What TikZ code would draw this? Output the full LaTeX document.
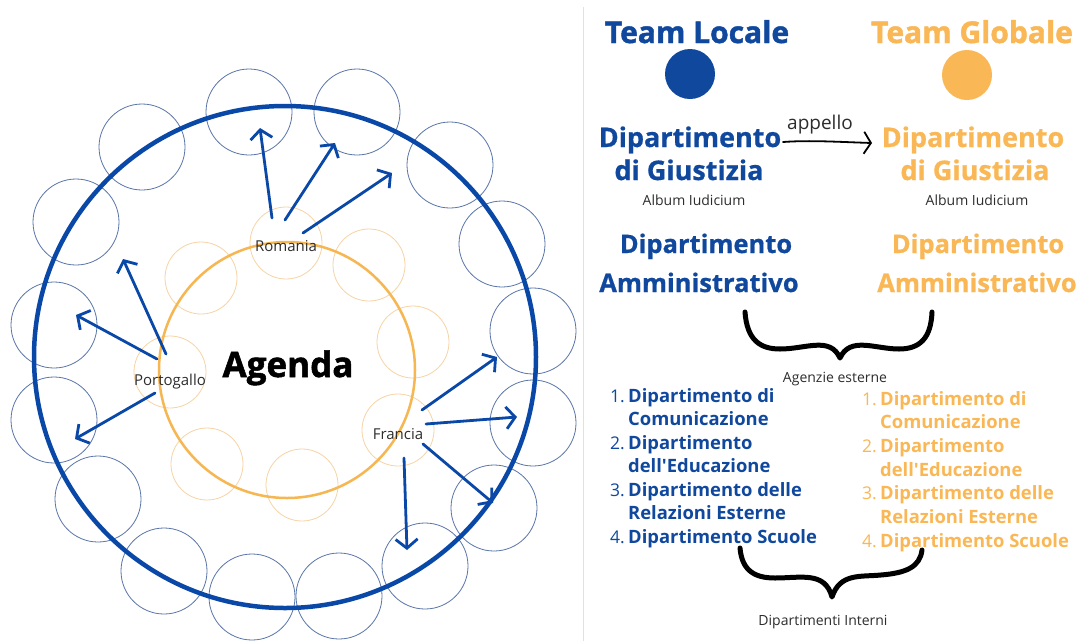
\documentclass[tikz,border=0pt]{standalone}
\usepackage{fontspec}
\setmainfont{Open Sans}
\newfontfamily\heavyfont{Open Sans}[FakeBold=1.5]
\newfontfamily\semifont{Open Sans}[FakeBold=0.7]
\usetikzlibrary{arrows.meta}
\definecolor{cblue}{RGB}{10,72,168}
\definecolor{tblue}{RGB}{16,72,158}
\definecolor{cthin}{RGB}{90,118,170}
\definecolor{corange}{RGB}{250,183,85}
\definecolor{corbig}{RGB}{246,182,82}
\definecolor{corlight}{RGB}{247,212,165}
\definecolor{ctext}{RGB}{45,45,45}
\definecolor{cdiv}{RGB}{225,225,225}
\begin{document}
\begin{tikzpicture}[x=1pt,y=-1pt,
  outc/.style={circle, draw=cthin, line width=0.8pt, minimum size=86pt, inner sep=0pt},
  orc/.style={circle, draw=corlight, line width=0.8pt, minimum size=72pt, inner sep=0pt},
  arw/.style={draw=cblue, line width=2.8pt, line cap=round, -{Straight Barb[length=9pt,width=22pt]}},
  lbl/.style={font=\fontsize{15}{18}\selectfont, text=ctext, inner sep=0pt, anchor=base},
  small/.style={font=\fontsize{14}{17}\selectfont, text=ctext, inner sep=0pt, anchor=base},
  head/.style={font=\heavyfont\bfseries\fontsize{30}{36}\selectfont, inner sep=0pt, anchor=base},
  dep/.style={font=\semifont\bfseries\fontsize{27}{32}\selectfont, inner sep=0pt, anchor=base},
  depa/.style={font=\semifont\bfseries\fontsize{25.5}{30}\selectfont, inner sep=0pt, anchor=base},
  item/.style={font=\bfseries\fontsize{18.4}{22}\selectfont, inner sep=0pt, anchor=base west},
  num/.style={font=\fontsize{17.5}{22}\selectfont, inner sep=0pt, anchor=base east},
  brace/.style={draw=black, line width=5pt, line cap=round, line join=round}
]
\useasboundingbox (0,0) rectangle (1080,641);
\fill[white] (0,0) rectangle (1080,641);

% divider
\coordinate (dv1) at (583,7);
\coordinate (dv2) at (583,641);
\draw[cdiv, line width=1pt] (dv1) -- (dv2);

% outer small circles
\node[outc] (o1) at (249,112) {};
\node[outc] (o2) at (357,112) {};
\node[outc] (o3) at (450,165) {};
\node[outc] (o4) at (502,244) {};
\node[outc] (o5) at (533,331) {};
\node[outc] (o6) at (533,423) {};
\node[outc] (o7) at (494,508) {};
\node[outc] (o8) at (425,566) {};
\node[outc] (o9) at (339,596) {};
\node[outc] (o10) at (252,597) {};
\node[outc] (o11) at (164,571) {};
\node[outc] (o12) at (98,499) {};
\node[outc] (o13) at (54,420) {};
\node[outc] (o14) at (54,325) {};
\node[outc] (o15) at (76,222) {};
\node[outc] (o16) at (142,147) {};

% inner orange circles
\node[orc] (rom) at (286,243) {};
\node[orc] (i2) at (369,265) {};
\node[orc] (i3) at (413,342) {};
\node[orc] (fra) at (398,430) {};
\node[orc] (i5) at (302,485) {};
\node[orc] (i6) at (207,464) {};
\node[orc] (por) at (170,372) {};
\node[orc] (i8) at (201,278) {};

% big circles
\node[circle, draw=cblue, line width=4.5pt, minimum size=502pt, inner sep=0pt] (big) at (285,357) {};
\node[circle, draw=corbig, line width=2.5pt, minimum size=256pt, inner sep=0pt] (mid) at (287,370) {};

% arrow coordinates
\coordinate (ra1) at (272,218); \coordinate (rb1) at (260,128);
\coordinate (ra2) at (285,220); \coordinate (rb2) at (335,143);
\coordinate (ra3) at (303,233); \coordinate (rb3) at (392,173);
\coordinate (pa1) at (166,354); \coordinate (pb1) at (123,259);
\coordinate (pa2) at (157,359); \coordinate (pb2) at (76,315);
\coordinate (pa3) at (155,393); \coordinate (pb3) at (75,439);
\coordinate (fa1) at (422,410); \coordinate (fb1) at (497,357);
\coordinate (fa2) at (426,424); \coordinate (fb2) at (517,417);
\coordinate (fa3) at (423,444); \coordinate (fb3) at (493,503);
\coordinate (fa4) at (404,458); \coordinate (fb4) at (407,550);

\draw[arw] (ra1) -- (rb1);
\draw[arw] (ra2) -- (rb2);
\draw[arw] (ra3) -- (rb3);
\draw[arw] (pa1) -- (pb1);
\draw[arw] (pa2) -- (pb2);
\draw[arw] (pa3) -- (pb3);
\draw[arw] (fa1) -- (fb1);
\draw[arw] (fa2) -- (fb2);
\draw[arw] (fa3) -- (fb3);
\draw[arw] (fa4) -- (fb4);

% labels
\node[lbl] (lrom) at (286,251) {Romania};
\node[lbl] (lpor) at (170,385) {Portogallo};
\node[lbl] (lfra) at (398,439) {Francia};
\node[font=\heavyfont\bfseries\fontsize{35}{40}\selectfont, inner sep=0pt, anchor=base] (agenda) at (288,377) {Agenda};

% right panel headings
\node[head, text=tblue] (tl) at (697,43) {Team Locale};
\node[head, text=corange] (tg) at (972,43) {Team Globale};
\node[circle, fill=tblue, minimum size=50pt, inner sep=0pt] (dl) at (690,74) {};
\node[circle, fill=corange, minimum size=50pt, inner sep=0pt] (dg) at (967,75) {};

\node[dep, text=tblue] (gl1) at (690,147) {Dipartimento};
\node[dep, text=tblue] (gl2) at (689,180) {di Giustizia};
\node[dep, text=corange] (gg1) at (973,147) {Dipartimento};
\node[dep, text=corange] (gg2) at (975,180) {di Giustizia};
\node[small] (al) at (694,205) {Album Iudicium};
\node[small] (ag) at (977,205) {Album Iudicium};

\node[font=\fontsize{19}{22}\selectfont, text=ctext, inner sep=0pt, anchor=base] (app) at (820,129) {appello};
\coordinate (apa) at (783,142);
\coordinate (apb) at (872,143);
\draw[black, line width=1.8pt, line cap=round, -{Straight Barb[length=7pt,width=22pt]}] (apa) .. controls (810,140) and (840,142) .. (apb);

\node[depa, text=tblue] (al1) at (706,253) {Dipartimento};
\node[depa, text=tblue] (al2) at (699,292) {Amministrativo};
\node[depa, text=corange] (ag1) at (978,253) {Dipartimento};
\node[depa, text=corange] (ag2) at (977,292) {Amministrativo};

% brace 1
\draw[brace] (745,312) .. controls (747,340) and (760,349) .. (780,349)
  .. controls (806,349) and (830,336) .. (840,358)
  .. controls (850,336) and (875,349) .. (899,349)
  .. controls (920,349) and (931,338) .. (932,312);
\node[small] (ext) at (835,382) {Agenzie esterne};

% left list
\node[num, text=tblue] (ln1) at (625,402) {1.};
\node[item, text=tblue] (lt1a) at (628,402) {Dipartimento di};
\node[item, text=tblue] (lt1b) at (628,425) {Comunicazione};
\node[num, text=tblue] (ln2) at (625,449) {2.};
\node[item, text=tblue] (lt2a) at (628,449) {Dipartimento};
\node[item, text=tblue] (lt2b) at (628,472) {dell\textquotesingle Educazione};
\node[num, text=tblue] (ln3) at (625,496) {3.};
\node[item, text=tblue] (lt3a) at (628,496) {Dipartimento delle};
\node[item, text=tblue] (lt3b) at (628,519) {Relazioni Esterne};
\node[num, text=tblue] (ln4) at (625,543) {4.};
\node[item, text=tblue] (lt4a) at (628,543) {Dipartimento Scuole};

% right list
\node[num, text=corange] (rn1) at (877,405) {1.};
\node[item, text=corange] (rt1a) at (880,405) {Dipartimento di};
\node[item, text=corange] (rt1b) at (880,428) {Comunicazione};
\node[num, text=corange] (rn2) at (877,452) {2.};
\node[item, text=corange] (rt2a) at (880,452) {Dipartimento};
\node[item, text=corange] (rt2b) at (880,476) {dell\textquotesingle Educazione};
\node[num, text=corange] (rn3) at (877,499) {3.};
\node[item, text=corange] (rt3a) at (880,499) {Dipartimento delle};
\node[item, text=corange] (rt3b) at (880,523) {Relazioni Esterne};
\node[num, text=corange] (rn4) at (877,547) {4.};
\node[item, text=corange] (rt4a) at (880,547) {Dipartimento Scuole};

% brace 2
\draw[brace] (740,548) .. controls (742,571) and (755,578) .. (775,578)
  .. controls (801,578) and (825,571) .. (832,597)
  .. controls (840,573) and (860,577) .. (881,575)
  .. controls (906,573) and (920,567) .. (922,550);
\node[small] (int) at (823,625) {Dipartimenti Interni};
\end{tikzpicture}
\end{document}
